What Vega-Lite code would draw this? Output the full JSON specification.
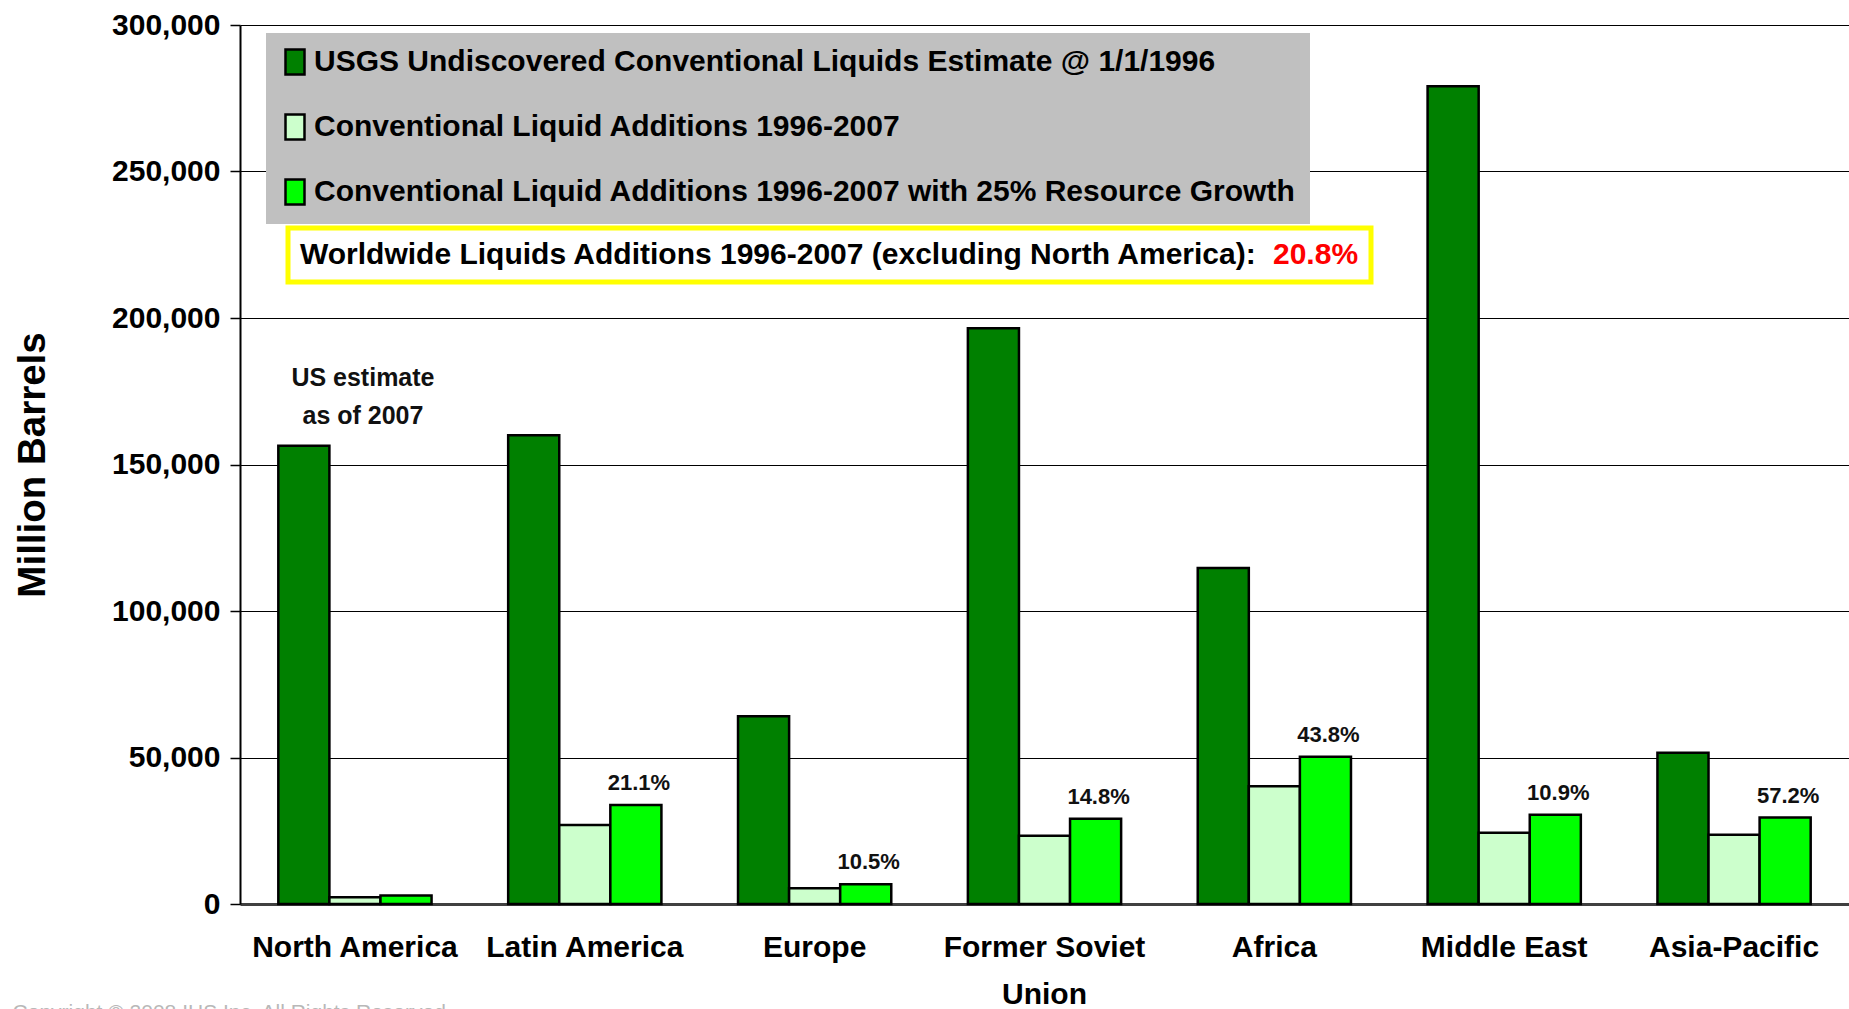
{
  "$schema": "https://vega.github.io/schema/vega-lite/v6.json",
  "width": 1609,
  "height": 879,
  "autosize": {"type": "none"},
  "padding": {"left": 240, "top": 25, "right": 0, "bottom": 105},
  "background": "white",
  "title": {
    "text": "Copyright © 2008 IHS Inc.   All Rights Reserved.",
    "orient": "bottom",
    "anchor": "start",
    "frame": "bounds",
    "offset": -7,
    "dx": -1,
    "font": "Liberation Sans",
    "fontSize": 21,
    "fontWeight": "normal",
    "color": "#b8b8b8"
  },
  "datasets": {
    "regions": [
      {"region": "North America", "series": "USGS Undiscovered Conventional Liquids Estimate @ 1/1/1996", "barrels": 156400, "label": null, "note": ["US estimate", "as of 2007"]},
      {"region": "North America", "series": "Conventional Liquid Additions 1996-2007", "barrels": 2300, "label": null, "note": null},
      {"region": "North America", "series": "Conventional Liquid Additions 1996-2007 with 25% Resource Growth", "barrels": 2900, "label": null, "note": null},
      {"region": "Latin America", "series": "USGS Undiscovered Conventional Liquids Estimate @ 1/1/1996", "barrels": 160000, "label": null, "note": null},
      {"region": "Latin America", "series": "Conventional Liquid Additions 1996-2007", "barrels": 27000, "label": null, "note": null},
      {"region": "Latin America", "series": "Conventional Liquid Additions 1996-2007 with 25% Resource Growth", "barrels": 33760, "label": "21.1%", "note": null},
      {"region": "Europe", "series": "USGS Undiscovered Conventional Liquids Estimate @ 1/1/1996", "barrels": 64100, "label": null, "note": null},
      {"region": "Europe", "series": "Conventional Liquid Additions 1996-2007", "barrels": 5400, "label": null, "note": null},
      {"region": "Europe", "series": "Conventional Liquid Additions 1996-2007 with 25% Resource Growth", "barrels": 6730, "label": "10.5%", "note": null},
      {"region": "Former Soviet Union", "series": "USGS Undiscovered Conventional Liquids Estimate @ 1/1/1996", "barrels": 196500, "label": null, "note": null},
      {"region": "Former Soviet Union", "series": "Conventional Liquid Additions 1996-2007", "barrels": 23300, "label": null, "note": null},
      {"region": "Former Soviet Union", "series": "Conventional Liquid Additions 1996-2007 with 25% Resource Growth", "barrels": 29100, "label": "14.8%", "note": null},
      {"region": "Africa", "series": "USGS Undiscovered Conventional Liquids Estimate @ 1/1/1996", "barrels": 114700, "label": null, "note": null},
      {"region": "Africa", "series": "Conventional Liquid Additions 1996-2007", "barrels": 40200, "label": null, "note": null},
      {"region": "Africa", "series": "Conventional Liquid Additions 1996-2007 with 25% Resource Growth", "barrels": 50250, "label": "43.8%", "note": null},
      {"region": "Middle East", "series": "USGS Undiscovered Conventional Liquids Estimate @ 1/1/1996", "barrels": 279100, "label": null, "note": null},
      {"region": "Middle East", "series": "Conventional Liquid Additions 1996-2007", "barrels": 24350, "label": null, "note": null},
      {"region": "Middle East", "series": "Conventional Liquid Additions 1996-2007 with 25% Resource Growth", "barrels": 30420, "label": "10.9%", "note": null},
      {"region": "Asia-Pacific", "series": "USGS Undiscovered Conventional Liquids Estimate @ 1/1/1996", "barrels": 51600, "label": null, "note": null},
      {"region": "Asia-Pacific", "series": "Conventional Liquid Additions 1996-2007", "barrels": 23600, "label": null, "note": null},
      {"region": "Asia-Pacific", "series": "Conventional Liquid Additions 1996-2007 with 25% Resource Growth", "barrels": 29500, "label": "57.2%", "note": null}
    ],
    "worldwide": [
      {"scope": "Worldwide excluding North America", "additions": "20.8%"}
    ]
  },
  "layer": [
    {
      "data": {"name": "regions"},
      "mark": {"type": "bar", "stroke": "#000000", "strokeWidth": 2.5},
      "encoding": {
        "x": {
          "field": "region",
          "type": "nominal",
          "sort": null,
          "scale": {"paddingInner": 0.3333, "paddingOuter": 0.1667},
          "axis": {
            "title": null,
            "ticks": false,
            "labelAngle": 0,
            "labelFont": "Liberation Sans",
            "labelFontWeight": "bold",
            "labelFontSize": 30,
            "labelColor": "#000000",
            "labelLimit": 400,
            "labelPadding": 28,
            "labelLineHeight": 47,
            "labelExpr": "datum.value == 'Former Soviet Union' ? ['Former Soviet', 'Union'] : datum.value",
            "domainColor": "#404040",
            "domainWidth": 3,
            "grid": false
          }
        },
        "xOffset": {
          "field": "series",
          "type": "nominal",
          "scale": {
            "domain": [
              "USGS Undiscovered Conventional Liquids Estimate @ 1/1/1996",
              "Conventional Liquid Additions 1996-2007",
              "Conventional Liquid Additions 1996-2007 with 25% Resource Growth"
            ],
            "paddingInner": 0,
            "paddingOuter": 0
          }
        },
        "y": {
          "field": "barrels",
          "type": "quantitative",
          "scale": {"domain": [0, 300000], "nice": false},
          "axis": {
            "title": "Million Barrels",
            "titleFont": "Liberation Sans",
            "titleFontWeight": "bold",
            "titleFontSize": 38.5,
            "titleColor": "#000000",
            "titlePadding": 59,
            "values": [0, 50000, 100000, 150000, 200000, 250000, 300000],
            "format": ",d",
            "labelFont": "Liberation Sans",
            "labelFontWeight": "bold",
            "labelFontSize": 30,
            "labelColor": "#000000",
            "labelPadding": 10,
            "tickSize": 10,
            "tickColor": "#000000",
            "tickWidth": 1.5,
            "domainColor": "#000000",
            "domainWidth": 2,
            "grid": true,
            "gridColor": "#000000",
            "gridWidth": 1.2
          }
        },
        "color": {
          "field": "series",
          "type": "nominal",
          "scale": {
            "domain": [
              "USGS Undiscovered Conventional Liquids Estimate @ 1/1/1996",
              "Conventional Liquid Additions 1996-2007",
              "Conventional Liquid Additions 1996-2007 with 25% Resource Growth"
            ],
            "range": ["#008000", "#ccffcc", "#00ff00"]
          },
          "legend": {
            "title": null,
            "orient": "none",
            "legendX": 26,
            "legendY": 8,
            "padding": 14,
            "fillColor": "#c0c0c0",
            "symbolType": "M-0.76,-1H0.76V1H-0.76Z",
            "symbolSize": 625,
            "symbolStrokeColor": "#000000",
            "symbolStrokeWidth": 2.5,
            "symbolOpacity": 1,
            "labelFont": "Liberation Sans",
            "labelFontWeight": "bold",
            "labelFontSize": 30,
            "labelColor": "#000000",
            "labelLimit": 2000,
            "labelOffset": 4,
            "rowPadding": 29
          }
        }
      }
    },
    {
      "data": {"name": "regions"},
      "transform": [{"filter": "datum.label != null"}],
      "mark": {
        "type": "text",
        "baseline": "bottom",
        "dy": -10,
        "dx": 3,
        "font": "Liberation Sans",
        "fontWeight": "bold",
        "fontSize": 22,
        "color": "#111111"
      },
      "encoding": {
        "x": {"field": "region", "type": "nominal", "sort": null},
        "xOffset": {"field": "series", "type": "nominal"},
        "y": {"field": "barrels", "type": "quantitative"},
        "text": {"field": "label"}
      }
    },
    {
      "data": {"name": "regions"},
      "transform": [{"filter": "datum.note != null"}],
      "mark": {
        "type": "text",
        "baseline": "bottom",
        "dy": -55,
        "dx": 8,
        "lineHeight": 38,
        "font": "Liberation Sans",
        "fontWeight": "bold",
        "fontSize": 25,
        "color": "#111111"
      },
      "encoding": {
        "x": {"field": "region", "type": "nominal", "sort": null},
        "xOffset": {"datum": "Conventional Liquid Additions 1996-2007"},
        "y": {"field": "barrels", "type": "quantitative"},
        "text": {"field": "note"}
      }
    },
    {
      "data": {"name": "worldwide"},
      "mark": {"type": "point", "opacity": 0},
      "encoding": {
        "shape": {
          "field": "additions",
          "type": "nominal",
          "scale": {"range": ["square"]},
          "legend": {
            "title": "Worldwide Liquids Additions 1996-2007 (excluding North America):",
            "orient": "none",
            "legendX": 48,
            "legendY": 203,
            "padding": 12,
            "strokeColor": "#ffff00",
            "titleOrient": "left",
            "titleFont": "Liberation Sans",
            "titleFontWeight": "bold",
            "titleFontSize": 30,
            "titleColor": "#000000",
            "titleLimit": 2000,
            "titlePadding": -15,
            "symbolSize": 1,
            "symbolOpacity": 0,
            "symbolStrokeWidth": 0,
            "labelOffset": 0,
            "labelFont": "Liberation Sans",
            "labelFontWeight": "bold",
            "labelFontSize": 30,
            "labelColor": "#ff0000"
          }
        }
      }
    }
  ],
  "config": {
    "view": {"fill": "#c0c0c0", "stroke": null},
    "legend": {"strokeWidth": 5}
  }
}
